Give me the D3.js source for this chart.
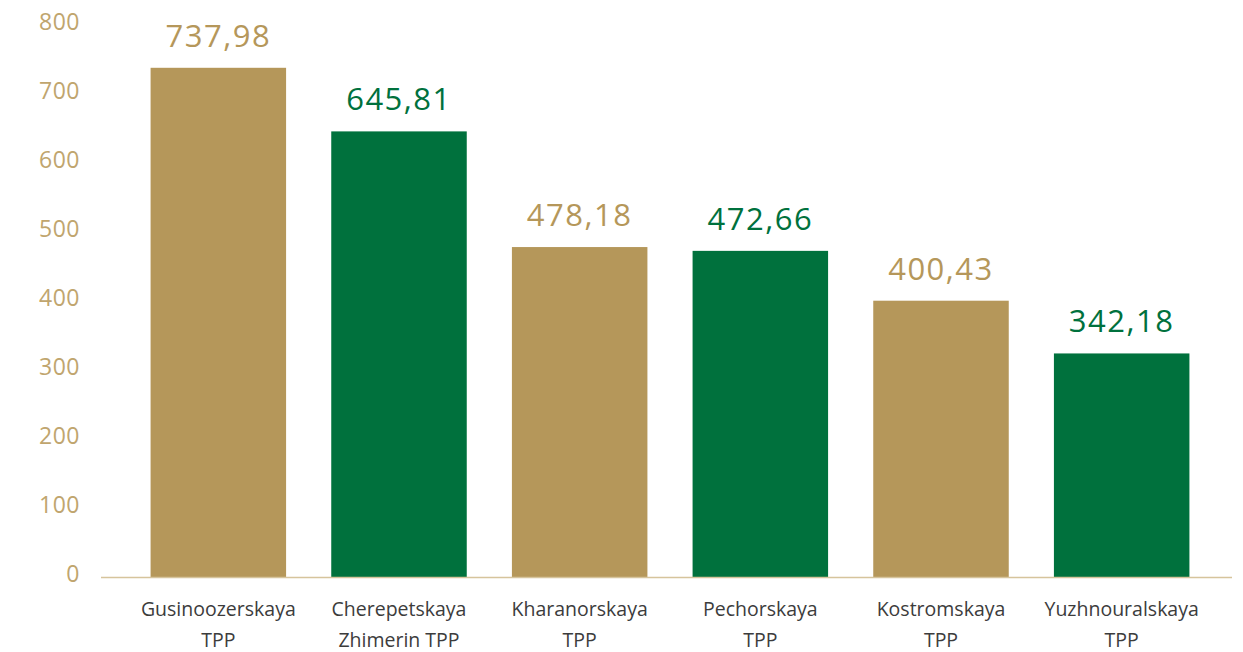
<!DOCTYPE html>
<html>
<head>
<meta charset="utf-8">
<script src="https://cdn.jsdelivr.net/npm/d3@7"></script>
<style>
  body { margin: 0; background: #fff; }
  text { font-family: "Open Sans", "Noto Sans", sans-serif; }
</style>
</head>
<body>
<svg id="chart"></svg>
<script>
var categories = [
  ["Gusinoozerskaya", "TPP"],
  ["Cherepetskaya", "Zhimerin TPP"],
  ["Kharanorskaya", "TPP"],
  ["Pechorskaya", "TPP"],
  ["Kostromskaya", "TPP"],
  ["Yuzhnouralskaya", "TPP"]
];
// bar heights
var values = [737.98, 645.81, 478.18, 472.66, 400.43, 324];
// value labels as printed
var valueLabels = ["737,98", "645,81", "478,18", "472,66", "400,43", "342,18"];
var yTicks = [0, 100, 200, 300, 400, 500, 600, 700, 800];

var gold = "#b5975a";
var green = "#00713d";
var colors = [gold, green, gold, green, gold, green];

var width = 1243, height = 652;

var svg = d3.select("#chart")
  .attr("width", width)
  .attr("height", height);

var x = d3.scaleBand()
  .domain(d3.range(values.length))
  .range([128, 1212])
  .paddingInner(0.25)
  .paddingOuter(0.125);

var y = d3.scaleLinear()
  .domain([0, 800])
  .range([577, 25]);

// y axis labels
var yAxis = svg.append("g")
  .attr("transform", "translate(80,0)")
  .call(d3.axisLeft(y).tickValues(yTicks).tickSize(0).tickPadding(0));
yAxis.select(".domain").remove();
yAxis.selectAll("text")
  .attr("dy", "0.32em")
  .attr("y", -3)
  .style("font-family", "'Open Sans', sans-serif")
  .style("font-size", "23px")
  .style("letter-spacing", "0.5px")
  .attr("fill", "#c0a56e");

// bars
svg.selectAll(".bar")
  .data(values)
  .enter()
  .append("rect")
  .attr("class", "bar")
  .attr("x", function(d, i) { return x(i); })
  .attr("y", function(d) { return y(d); })
  .attr("width", x.bandwidth())
  .attr("height", function(d) { return y(0) - y(d); })
  .attr("fill", function(d, i) { return colors[i]; });

// baseline
svg.append("line")
  .attr("x1", 101)
  .attr("x2", 1232)
  .attr("y1", y(0) + 0.5)
  .attr("y2", y(0) + 0.5)
  .attr("stroke", "#d6c49c")
  .attr("stroke-width", 1.5);

// value labels
svg.selectAll(".val")
  .data(values)
  .enter()
  .append("text")
  .attr("class", "val")
  .attr("x", function(d, i) { return x(i) + x.bandwidth() / 2; })
  .attr("y", function(d) { return y(d) - 21; })
  .attr("text-anchor", "middle")
  .style("font-size", "31px")
  .style("letter-spacing", "1.5px")
  .attr("fill", function(d, i) { return colors[i]; })
  .text(function(d, i) { return valueLabels[i]; });

// category labels
var cats = svg.selectAll(".cat")
  .data(categories)
  .enter()
  .append("text")
  .attr("class", "cat")
  .attr("text-anchor", "middle")
  .attr("fill", "#3c3c3c")
  .style("font-size", "19.5px");
cats.each(function(d, i) {
  var t = d3.select(this);
  d.forEach(function(line, j) {
    t.append("tspan")
      .attr("x", x(i) + x.bandwidth() / 2)
      .attr("y", 616 + j * 31)
      .text(line);
  });
});
</script>
</body>
</html>
